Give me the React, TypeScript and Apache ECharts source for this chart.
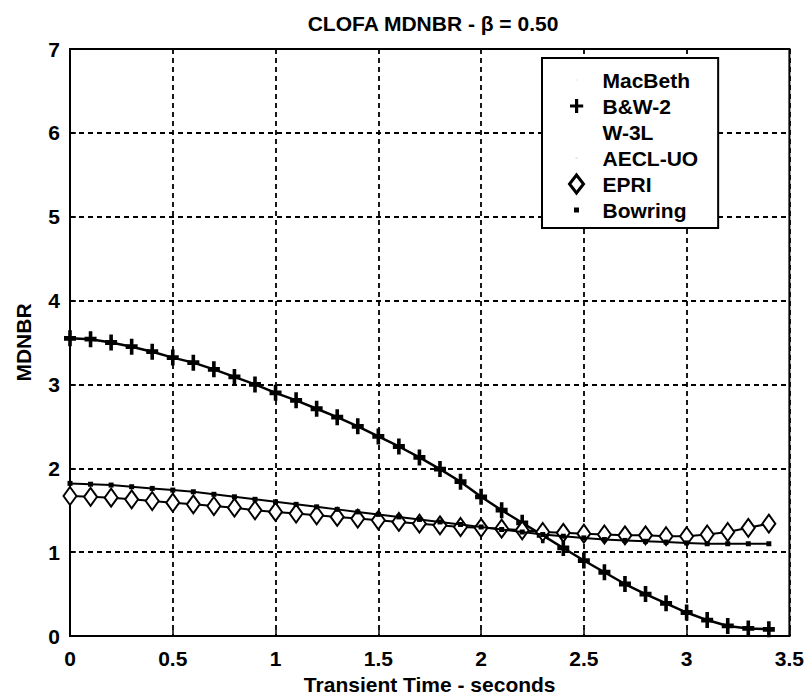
import React, { useEffect, useRef } from "react";
import * as echarts from "echarts";

// Transient time (s)
const times = [
  0, 0.1, 0.2, 0.3, 0.4, 0.5, 0.6, 0.7, 0.8, 0.9, 1.0, 1.1, 1.2, 1.3, 1.4, 1.5, 1.6, 1.7,
  1.8, 1.9, 2.0, 2.1, 2.2, 2.3, 2.4, 2.5, 2.6, 2.7, 2.8, 2.9, 3.0, 3.1, 3.2, 3.3, 3.4,
];

const bw2 = [
  3.55, 3.54, 3.5, 3.45, 3.39, 3.32, 3.26, 3.18, 3.09, 3.0, 2.9, 2.81, 2.71, 2.61, 2.5, 2.38,
  2.26, 2.13, 1.99, 1.84, 1.66, 1.5, 1.35, 1.2, 1.05, 0.9, 0.76, 0.62, 0.5, 0.39, 0.28, 0.19,
  0.12, 0.09, 0.08,
];

const epri = [
  1.67, 1.66, 1.65, 1.63, 1.61, 1.59, 1.57, 1.55, 1.53, 1.5, 1.48, 1.46, 1.44, 1.42, 1.4, 1.38,
  1.36, 1.34, 1.32, 1.3, 1.29, 1.28, 1.26, 1.24, 1.23, 1.22, 1.21, 1.2, 1.2, 1.19, 1.19, 1.21,
  1.24, 1.29, 1.34,
];

const bowring = [
  1.82, 1.81, 1.8, 1.78, 1.76, 1.74, 1.72, 1.69, 1.66, 1.63, 1.6, 1.57, 1.54, 1.51, 1.48, 1.45,
  1.42, 1.39, 1.36, 1.33, 1.3, 1.27, 1.24, 1.21, 1.19, 1.17, 1.15, 1.14, 1.13, 1.12, 1.11, 1.1,
  1.1, 1.1, 1.1,
];

// Series that are not legible in the scanned reference (left empty)
const macbeth: number[] = [];
const w3l: number[] = [];
const aeclUo: number[] = [];

const seriesNames = ["MacBeth", "B&W-2", "W-3L", "AECL-UO", "EPRI", "Bowring"];

const FONT = "Liberation Sans";

const PLUS = "path://M3.5,0L6.5,0L6.5,3.5L10,3.5L10,6.5L6.5,6.5L6.5,10L3.5,10L3.5,6.5L0,6.5L0,3.5L3.5,3.5Z";
const LEG_PLUS = "path://M0,0M14,18M5.5,2h3.2v5.4h5v3.2h-5v5.4h-3.2v-5.4h-5v-3.2h5z";
const LEG_DIAMOND = "path://M7,0L14,9L7,18L0,9Z";
const LEG_SQUARE = "path://M0,0M14,18M4.5,6.5h5v5h-5z";
const LEG_NONE = "path://M0,0M14,18M6,8h2v2h-2z";

function pairs(ys: number[]) {
  return ys.map((y, i) => [times[i], y]);
}

export default function App() {
  const ref = useRef<HTMLDivElement>(null);

  useEffect(() => {
    if (!ref.current) return;
    const chart = echarts.init(ref.current, undefined, { renderer: "svg" });

    const txt = { fontSize: 21, color: "#000", fontFamily: FONT, fontWeight: "bold" as const };

    chart.setOption({
      animation: false,
      backgroundColor: "#fff",
      graphic: [
        {
          type: "text",
          x: 433,
          y: 23,
          style: {
            text: "CLOFA MDNBR - β = 0.50",
            align: "center",
            verticalAlign: "middle",
            fontSize: 21,
            fontWeight: "bold",
            fontFamily: FONT,
            fill: "#000",
          },
        },
      ],
      grid: {
        left: 70,
        right: 11,
        top: 49,
        bottom: 64,
        show: true,
        borderColor: "#000",
        borderWidth: 2,
        backgroundColor: "transparent",
      },
      legend: {
        orient: "vertical",
        left: 542,
        top: 58,
        padding: [11, 20, 7, 26],
        itemWidth: 42,
        itemHeight: 18,
        itemGap: 4,
        backgroundColor: "#fff",
        borderColor: "#000",
        borderWidth: 2,
        borderRadius: 0,
        selectedMode: false,
        textStyle: { ...txt, lineHeight: 22 },
        data: [
          { name: "MacBeth", icon: LEG_NONE, itemStyle: { color: "#ddd", opacity: 0.5 } },
          { name: "B&W-2", icon: LEG_PLUS, itemStyle: { color: "#000" } },
          { name: "W-3L", icon: LEG_NONE, itemStyle: { opacity: 0 } },
          { name: "AECL-UO", icon: LEG_NONE, itemStyle: { color: "#ccc", opacity: 0.5 } },
          {
            name: "EPRI",
            icon: LEG_DIAMOND,
            itemStyle: { color: "#fff", borderColor: "#000", borderWidth: 3 },
          },
          { name: "Bowring", icon: LEG_SQUARE, itemStyle: { color: "#000" } },
        ],
      },
      xAxis: {
        type: "value",
        min: 0,
        max: 3.5,
        interval: 0.5,
        name: "Transient Time - seconds",
        nameLocation: "middle",
        nameGap: 37,
        nameTextStyle: txt,
        axisLine: { show: true, lineStyle: { color: "#000", width: 2 } },
        axisTick: { show: true, inside: true, length: 6, lineStyle: { color: "#000", width: 1.5 } },
        axisLabel: { ...txt, margin: 12 },
        splitLine: { show: true, lineStyle: { color: "#000", width: 1.8, type: [5, 4] } },
      },
      yAxis: {
        type: "value",
        min: 0,
        max: 7,
        interval: 1,
        name: "MDNBR",
        nameLocation: "middle",
        nameGap: 36,
        nameTextStyle: txt,
        axisLine: { show: true, lineStyle: { color: "#000", width: 2 } },
        axisTick: { show: true, inside: true, length: 6, lineStyle: { color: "#000", width: 1.5 } },
        axisLabel: { ...txt, margin: 10 },
        splitLine: { show: true, lineStyle: { color: "#000", width: 1.8, type: [5, 4] } },
      },
      series: [
        {
          name: seriesNames[0],
          type: "line",
          data: pairs(macbeth),
          color: "#ddd",
          symbol: "none",
          lineStyle: { color: "#ddd", width: 1, type: "dotted" },
        },
        {
          name: seriesNames[1],
          type: "line",
          data: pairs(bw2),
          color: "#000",
          symbol: PLUS,
          symbolSize: [12, 16],
          itemStyle: { color: "#000" },
          lineStyle: { color: "#000", width: 2.5 },
          z: 3,
        },
        {
          name: seriesNames[2],
          type: "line",
          data: pairs(w3l),
          color: "#eee",
          symbol: "none",
          lineStyle: { color: "#eee", width: 1 },
        },
        {
          name: seriesNames[3],
          type: "line",
          data: pairs(aeclUo),
          color: "#ccc",
          symbol: "none",
          lineStyle: { color: "#ddd", width: 1, type: "dotted" },
        },
        {
          name: seriesNames[4],
          type: "line",
          data: pairs(epri),
          color: "#000",
          symbol: "emptyDiamond",
          symbolSize: [13, 18],
          itemStyle: { color: "#000", borderColor: "#000", borderWidth: 2.5 },
          lineStyle: { color: "#000", width: 2 },
          z: 4,
        },
        {
          name: seriesNames[5],
          type: "line",
          data: pairs(bowring),
          color: "#000",
          symbol: "rect",
          symbolSize: 5,
          itemStyle: { color: "#000" },
          lineStyle: { color: "#000", width: 2 },
          z: 5,
        },
      ],
    });

    return () => chart.dispose();
  }, []);

  return (
    <div
      ref={ref}
      style={{ position: "absolute", left: 0, top: 0, width: 807, height: 700, background: "#fff" }}
    />
  );
}
